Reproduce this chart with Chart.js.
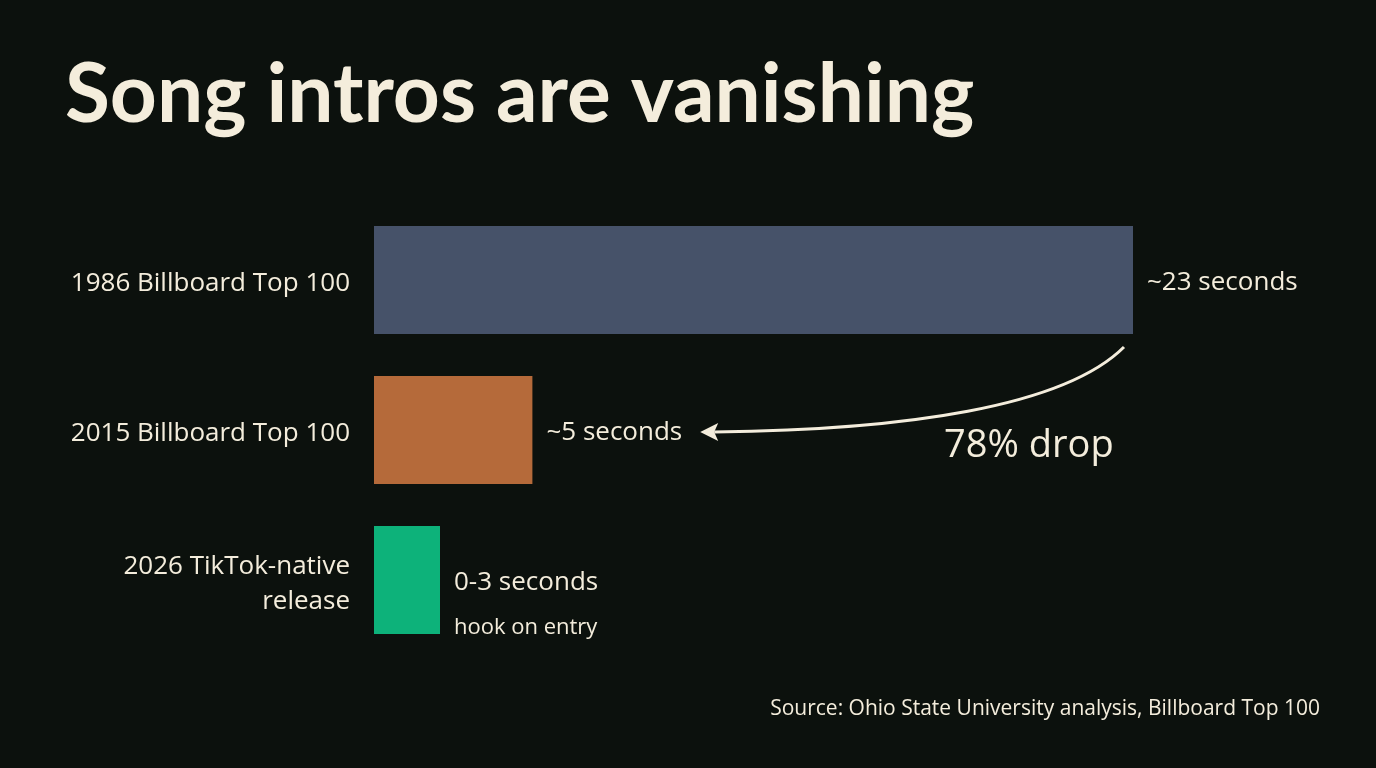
<!DOCTYPE html>
<html>
<head>
<meta charset="utf-8">
<script src="https://cdn.jsdelivr.net/npm/chart.js@4"></script>
<style>
  html, body { margin: 0; padding: 0; background: #0c110d; }
  #wrap { width: 1376px; height: 768px; position: relative; }
</style>
</head>
<body>
<div id="wrap"><canvas id="chart" width="1376" height="768"></canvas></div>
<script>
// Song intro length by era
const categories = [
    '1986 Billboard Top 100',
    '2015 Billboard Top 100',
    ['2026 TikTok-native', 'release']
];
const introSeconds = [23, 4.8, 2];
const valueLabels = ['~23 seconds', '~5 seconds', '0-3 seconds'];
const valueNotes = ['', '', 'hook on entry'];
const barColors = ['#465269', '#b56a3a', '#0db27a'];

const titleText = 'Song intros are vanishing';
const dropText = '78% drop';
const sourceText = 'Source: Ohio State University analysis, Billboard Top 100';

const cream = '#f4eddc';
const bodyFont = '"Open Sans", "DejaVu Sans", sans-serif';
const titleFont = 'Lato, "Open Sans", sans-serif';

// title, value labels, arrow and source
const annotations = {
    id: 'annotations',
    afterDatasetsDraw(chart) {
        const ctx = chart.ctx;
        const meta = chart.getDatasetMeta(0);
        ctx.save();
        ctx.fillStyle = cream;

        // title
        ctx.font = 'bold 82px ' + titleFont;
        ctx.textAlign = 'left';
        ctx.textBaseline = 'alphabetic';
        ctx.fillText(titleText, 65, 122);

        // value labels next to bars
        ctx.textBaseline = 'middle';
        const labelEnds = [];
        meta.data.forEach((bar, i) => {
            const lx = bar.x + 14;
            ctx.font = '26px ' + bodyFont;
            ctx.fillText(valueLabels[i], lx, bar.y + 3);
            labelEnds.push(lx + ctx.measureText(valueLabels[i]).width);
            if (valueNotes[i]) {
                ctx.font = '22px ' + bodyFont;
                ctx.fillText(valueNotes[i], lx, bar.y + 48);
            }
        });

        // curved arrow from bar 1 down to bar 2 label
        const b1 = meta.data[0];
        const b2 = meta.data[1];
        const sx = b1.x - 9, sy = b1.y + b1.height / 2 + 13;
        const ex = labelEnds[1] + 22, ey = b2.y + 2;
        ctx.strokeStyle = cream;
        ctx.lineWidth = 3;
        ctx.beginPath();
        ctx.moveTo(sx, sy);
        ctx.bezierCurveTo(sx - 60, sy + 60, sx - 220, ey - 2, ex + 10, ey);
        ctx.stroke();
        ctx.beginPath();
        ctx.moveTo(ex - 4, ey);
        ctx.lineTo(ex + 14, ey - 9);
        ctx.lineTo(ex + 10, ey);
        ctx.lineTo(ex + 14, ey + 9);
        ctx.closePath();
        ctx.fill();

        // drop label
        ctx.font = '38px ' + bodyFont;
        ctx.textAlign = 'left';
        ctx.textBaseline = 'alphabetic';
        ctx.fillText(dropText, 944, 457);

        // source
        ctx.font = '21px ' + bodyFont;
        ctx.textAlign = 'right';
        ctx.textBaseline = 'middle';
        ctx.fillText(sourceText, 1320, 709);
        ctx.restore();
    }
};

new Chart(document.getElementById('chart'), {
    type: 'bar',
    data: {
        labels: categories,
        datasets: [{
            data: introSeconds,
            backgroundColor: barColors,
            borderWidth: 0,
            barPercentage: 0.72,
            categoryPercentage: 1
        }]
    },
    options: {
        indexAxis: 'y',
        responsive: false,
        animation: false,
        layout: { padding: { top: 205, bottom: 113, left: 0, right: 12 } },
        plugins: { legend: { display: false }, tooltip: { enabled: false } },
        scales: {
            x: { display: false, min: 0, max: 30 },
            y: {
                grid: { display: false, drawTicks: false },
                border: { display: false },
                ticks: {
                    color: cream,
                    font: { family: bodyFont, size: 26, lineHeight: 1.35 },
                    padding: 24,
                    labelOffset: 4
                },
                afterFit(scale) { scale.width = 374; }
            }
        }
    },
    plugins: [annotations]
});
</script>
</body>
</html>
